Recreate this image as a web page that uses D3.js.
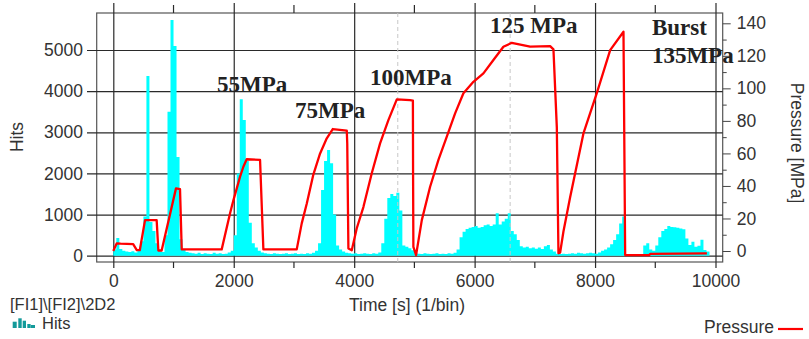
<!DOCTYPE html>
<html><head><meta charset="utf-8">
<script src="https://cdn.jsdelivr.net/npm/d3@7"></script>
<style>
body{margin:0;background:#fff}
text{font-family:Arial,"Liberation Sans",sans-serif;fill:#333}
</style></head>
<body><div id="stage"></div>
<script>

// hits per 50 s bin, starting at t=0
var binWidth=50;
var hits=[
 150,430,160,120,100,90,110,80,130,350,
 950,4370,820,600,300,110,90,500,3500,5730,
 5100,2400,400,160,90,70,60,50,70,40,
 60,50,40,70,50,60,40,50,80,120,
 500,2000,3800,3300,2300,800,300,200,120,80,
 60,50,40,60,50,40,50,60,40,50,
 60,40,50,40,60,50,70,120,300,1600,
 2300,2570,2250,1000,250,150,100,70,60,50,
 60,40,50,60,50,40,60,50,80,300,
 900,1400,1500,1450,1530,1100,250,220,180,130,
 60,50,40,60,50,40,50,60,40,50,
 40,60,50,70,150,450,580,650,680,700,
 720,680,700,740,760,720,760,1030,760,830,
 900,1030,600,520,380,230,200,220,180,200,
 170,200,160,230,260,150,100,50,40,50,
 40,50,60,50,70,60,50,60,70,60,
 50,80,120,150,200,280,380,520,780,950,
 10,10,0,10,0,10,250,300,150,120,
 250,450,600,650,720,700,690,680,660,640,
 420,260,340,220,240,390,140,100
];

// pressure trace
var pressTime=[0,56,120,330,390,440,527,720,748,803,
 1041,1108,1136,1800,1938,1993,2105,2160,2215,2437,
 2492,3046,3129,3212,3322,3434,3545,3644,3877,3885,
 3904,3960,4043,4153,4292,4430,4568,4708,4928,4975,
 4978,4983,5028,5123,5261,5399,5538,5676,5814,5980,
 6146,6312,6478,6617,6922,7254,7309,7365,7392,7420,
 7475,7586,7807,8029,8251,8472,8500,8900,8915,9857];
var pressure=[0,4.7,4.5,4.2,0.6,0.5,19,19,0.3,0.3,
 38.5,38,1,1,23,31,45.7,51.8,56.4,56,
 1,1,17,29,47,60,69.3,75,74,66,
 1.6,0.5,14,27,47.8,66.2,80.5,93.2,92.8,92.5,
 48,2.6,-2.5,19,39.5,56,70.3,84.6,97,104,
 109.2,117.4,125.6,128,125.6,126,124,76,-1.4,-1,
 12,33,72.3,97,123.5,134.8,-2.5,-2.5,-1.8,-1.4];

var xTicks=[0,2000,4000,6000,8000,10000];
var xMinor=[1000,3000,5000,7000,9000];
var hitTicks=[0,1000,2000,3000,4000,5000];
var pressTicks=[0,20,40,60,80,100,120,140];
var pressMinor=[10,30,50,70,90,110,130];
var cursors=[4724,6590];

var noteText=["55MPa","75MPa","100MPa","125 MPa","Burst","135MPa"];
var noteTime=[1722,3018,4264,6257,8944,8944];
var notePress=[97.5,81.7,102,134,132.8,115.5];

var frame={l:96.7,r:722.7,t:13,b:262};

var x=d3.scaleLinear().domain([0,10000]).range([113.3,715.5]);
var yH=d3.scaleLinear().domain([0,5000]).range([255.7,50]);
var yP=d3.scaleLinear().domain([0,140]).range([251,23.3]);

svg=d3.select("#stage").append("svg")
 .attr("width",809).attr("height",339);

// frame
svg.append("rect")
 .attr("x",frame.l).attr("y",frame.t)
 .attr("width",frame.r-frame.l).attr("height",frame.b-frame.t)
 .attr("fill","none").attr("stroke","#555").attr("stroke-width",1.2);

// left axis + horizontal grid
var gl=svg.append("g").attr("transform","translate(87,0)")
 .call(d3.axisLeft(yH).tickValues(hitTicks).tickSizeInner(-(frame.r-87)).tickSizeOuter(0).tickPadding(4).tickFormat(d3.format("d")));
gl.select(".domain").remove();
gl.selectAll("line").attr("stroke","#2a2a2a").attr("stroke-width",1.2);
gl.selectAll("text").style("font-size","17.5px").attr("fill","#333");

// bottom axis + vertical grid
var gb=svg.append("g").attr("transform","translate(0,268)")
 .call(d3.axisBottom(x).tickValues(xTicks).tickSizeInner(-265).tickSizeOuter(0).tickPadding(7).tickFormat(d3.format("d")));
gb.select(".domain").remove();
gb.selectAll("line").attr("stroke","#2a2a2a").attr("stroke-width",1.2);
gb.selectAll("text").style("font-size","17.5px").attr("fill","#333");

// minor x ticks above and below frame
svg.selectAll(".mx1").data(xMinor).enter().append("line")
 .attr("x1",d=>x(d)).attr("x2",d=>x(d)).attr("y1",5).attr("y2",frame.t)
 .attr("stroke","#2a2a2a").attr("stroke-width",1.2);
svg.selectAll(".mx2").data(xMinor).enter().append("line")
 .attr("x1",d=>x(d)).attr("x2",d=>x(d)).attr("y1",frame.b).attr("y2",268)
 .attr("stroke","#2a2a2a").attr("stroke-width",1.2);

// right axis (pressure)
var gr=svg.append("g").attr("transform","translate("+frame.r+",0)")
 .call(d3.axisRight(yP).tickValues(pressTicks).tickSize(8).tickPadding(6));
gr.select(".domain").remove();
gr.selectAll("line").attr("stroke","#444");
gr.selectAll("text").style("font-size","17.5px").attr("fill","#333");
var gr2=svg.append("g").attr("transform","translate("+frame.r+",0)")
 .call(d3.axisRight(yP).tickValues(pressMinor).tickSize(4).tickFormat(""));
gr2.select(".domain").remove();
gr2.selectAll("line").attr("stroke","#444");

// histogram
var histPts=hits.map(function(v,i){return [i*binWidth,v]});
histPts.push([hits.length*binWidth,hits[hits.length-1]]);
var area=d3.area().curve(d3.curveStepAfter)
 .x(function(d){return x(d[0])})
 .y0(yH(0))
 .y1(function(d){return yH(d[1])});
svg.append("path").datum(histPts).attr("d",area).attr("fill","#00ffff");

// cursor lines
svg.selectAll(".cur").data(cursors).enter().append("line")
 .attr("x1",d=>x(d)).attr("x2",d=>x(d)).attr("y1",frame.t).attr("y2",frame.b)
 .attr("stroke","#c8c8c8").attr("stroke-width",1).attr("stroke-dasharray","4,3");

// pressure line
var pts=pressTime.map(function(t,i){return [t,pressure[i]]});
var line=d3.line().x(function(d){return x(d[0])}).y(function(d){return yP(d[1])});
svg.append("path").datum(pts).attr("d",line)
 .attr("fill","none").attr("stroke","#ff0000").attr("stroke-width",2.3)
 .attr("stroke-linejoin","round");

// annotations
svg.selectAll(".note").data(noteText).enter().append("text")
 .attr("x",function(d,i){return x(noteTime[i])})
 .attr("y",function(d,i){return yP(notePress[i])})
 .style("font-family","'Liberation Serif','Times New Roman',serif")
 .style("font-weight","bold").style("font-size","23px").style("fill","#222")
 .text(d=>d);

// axis titles
svg.append("text").attr("transform","translate(23,137) rotate(-90)")
 .attr("text-anchor","middle").style("font-size","17.5px").text("Hits");
svg.append("text").attr("transform","translate(791,143) rotate(90)")
 .attr("text-anchor","middle").style("font-size","17.5px").text("Pressure [MPa]");
svg.append("text").attr("x",407).attr("y",311)
 .attr("text-anchor","middle").style("font-size","17.5px").text("Time [s] (1/bin)");
svg.append("text").attr("x",10).attr("y",310)
 .style("font-size","16.5px").text("[FI1]\\[FI2]\\2D2");

// legend: hits icon
var icon=[[12.7,4,321.7],[18.3,3.4,318.3],[22.7,3.3,320.7],[27.3,3.3,324],[30.7,4.3,325]];
svg.selectAll(".ic").data(icon).enter().append("rect")
 .attr("x",d=>d[0]).attr("width",d=>d[1]).attr("y",d=>d[2]).attr("height",d=>328-d[2])
 .attr("fill","#139a9a");
svg.append("text").attr("x",42).attr("y",329).style("font-size","16.5px").text("Hits");

// legend: pressure
svg.append("text").attr("x",774).attr("y",333).attr("text-anchor","end")
 .style("font-size","17.5px").text("Pressure");
svg.append("line").attr("x1",778).attr("x2",803).attr("y1",329).attr("y2",329)
 .attr("stroke","#ff0000").attr("stroke-width",2.2);

</script>
</body></html>
